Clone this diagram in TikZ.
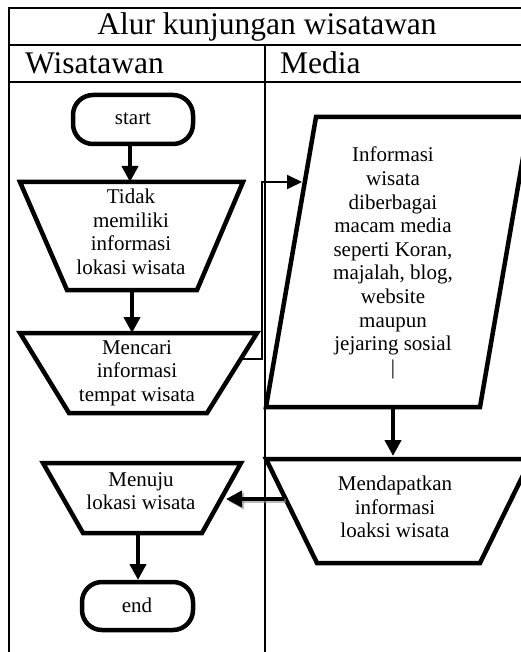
\documentclass[tikz,border=0pt]{standalone}
\usepackage{fontspec}
\setmainfont{Liberation Serif}
\usetikzlibrary{arrows.meta}
\begin{document}
\begin{tikzpicture}[x=1pt,y=-1pt,
  frame/.style={line width=1.2pt},
  shapebox/.style={line width=4.5pt, line join=miter},
  roundbox/.style={line width=4.5pt, rounded corners=20pt},
  body/.style={font=\fontsize{21}{23.6}\selectfont, align=center, inner sep=0pt},
  head/.style={font=\fontsize{31.5}{36}\selectfont, inner sep=0pt},
  flow/.style={line width=4.5pt, -{Triangle[length=16pt,width=16pt]}},
  thinflow/.style={line width=2pt, -{Triangle[length=15pt,width=14pt]}},
  shadowflow/.style={line width=4.5pt, draw=black!45, -{Triangle[length=16pt,width=16pt,fill=black!45]}}]
\useasboundingbox (0,0) rectangle (521,652);
\clip (0,0) rectangle (521,652);
% frame
\draw[frame] (9,660) -- (9,8) -- (530,8);
\draw[frame] (9,45) -- (530,45);
\draw[frame] (9,82) -- (530,82);
\draw[frame] (265,45) -- (265,660);
\node[head] (title) at (267,27) {Alur kunjungan wisatawan};
\node[head, anchor=west] (lane1) at (25,63) {Wisatawan};
\node[head, anchor=west] (lane2) at (280,63) {Media};
% shapes
\draw[roundbox] (73,95) rectangle (193,144);
\node[body] (start) at (133,119) {start};
\draw[shapebox] (20,182) -- (243,182) -- (197,290) -- (67,290) -- cycle;
\node[body] (tidak) at (131,232) {Tidak\\memiliki\\informasi\\lokasi wisata};
\draw[shapebox] (20,333) -- (257,333) -- (207,413) -- (69,413) -- cycle;
\node[body] (cari) at (137,373) {Mencari\\informasi\\tempat wisata};
\draw[shapebox] (316,117) -- (530,117) -- (480,407) -- (266,407) -- cycle;
\node[body] (info) at (393,263) {Informasi\\wisata\\diberbagai\\macam media\\seperti Koran,\\majalah, blog,\\website\\maupun\\jejaring sosial\\|};
\draw[shapebox] (266,459) -- (531,459) -- (480,563) -- (317,563) -- cycle;
\node[body] (dapat) at (395,507) {Mendapatkan\\informasi\\loaksi wisata};
\draw[shapebox] (43,463) -- (241,463) -- (202,533) -- (83,533) -- cycle;
\node[body] (menuju) at (141,491) {Menuju\\lokasi wisata};
\draw[roundbox] (82,582) rectangle (193,630);
\node[body] (end) at (137,605) {end};
% connection points
\coordinate (startS) at (130,146);
\coordinate (tidakN) at (130,182);
\coordinate (tidakS) at (132,292);
\coordinate (cariN) at (132,333);
\coordinate (cariE) at (241,359);
\coordinate (bendA) at (262,359);
\coordinate (bendB) at (262,182);
\coordinate (infoW) at (302,182);
\coordinate (infoS) at (393,409);
\coordinate (dapatN) at (393,456);
\coordinate (dapatW) at (284,499);
\coordinate (menujuE) at (226,499);
\coordinate (menujuS) at (138,535);
\coordinate (endN) at (138,580);
% connectors
\draw[flow] (startS) -- (tidakN);
\draw[flow] (tidakS) -- (cariN);
\draw[thinflow] (cariE) -- (bendA) -- (bendB) -- (infoW);
\draw[flow] (infoS) -- (dapatN);
\draw[shadowflow, opacity=0.6] ([shift={(2,2)}]dapatW) -- ([shift={(2,2)}]menujuE);
\draw[flow] (dapatW) -- (menujuE);
\draw[flow] (menujuS) -- (endN);
\end{tikzpicture}
\end{document}
